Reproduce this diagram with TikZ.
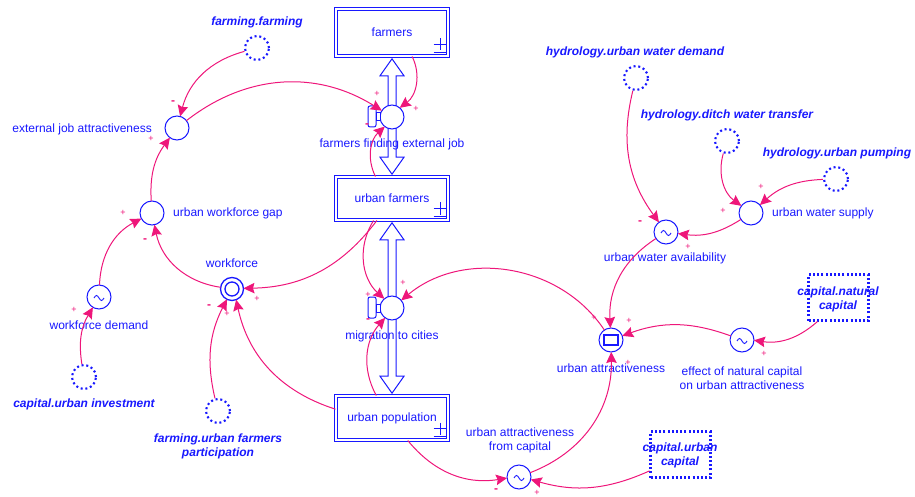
\documentclass[tikz,border=0pt]{standalone}
\usepackage{fontspec}
\setmainfont{Liberation Sans}
\usetikzlibrary{arrows.meta,calc}
\definecolor{sdblue}{RGB}{24,24,255}
\definecolor{sdlink}{RGB}{238,22,122}
\newcommand{\stockmark}[1]{%
  \draw[sdblue,line width=1pt] ($(#1.south east)+(-15,-12)$) -- ++(13,0)
    ($(#1.south east)+(-8.5,-18)$) -- ++(0,12);
  \draw[sdblue,line width=1.6pt] ($(#1.south east)+(-15,-4)$) -- ++(13,0);}
\newcommand{\valvehandle}[1]{%
  \draw[sdblue,line width=1pt,fill=white,rounded corners=2pt]
    ($(#1)+(-24,-11)$) rectangle ($(#1)+(-16,10)$);
  \draw[sdblue,line width=1pt,fill=white]
    ($(#1)+(-16,-4)$) rectangle ($(#1)+(-11.5,4)$);}
\begin{document}
\begin{tikzpicture}[x=1pt,y=-1pt,
  every node/.style={font=\fontsize{12}{14}\selectfont, text=sdblue, inner sep=0pt},
  mod/.style={font=\bfseries\itshape\fontsize{12}{14}\selectfont},
  stock/.style={draw=sdblue, double=white, double distance=2.5pt, line width=1pt,
    fill=white, minimum width=112pt, minimum height=44pt},
  aux/.style={circle, draw=sdblue, fill=white, line width=1pt, minimum size=24pt, outer sep=0pt},
  wave/.style={aux, path picture={\draw[sdblue,line width=0.9pt,
      shift={(path picture bounding box.center)}]
      (-5pt,-1pt) sin (-2.5pt,1.5pt) cos (0pt,-1pt) sin (2.5pt,-3.5pt) cos (5pt,-1pt);}},
  doublering/.style={aux, minimum size=23pt, line width=1.3pt, path picture={\draw[sdblue,line width=1.3pt]
      (path picture bounding box.center) circle (7pt);}},
  boxring/.style={aux, path picture={\draw[sdblue,line width=1.2pt,
      shift={(path picture bounding box.center)}] (-7pt,-5pt) rectangle (7pt,5pt);}},
  ghost/.style={circle, draw=sdblue, line width=2.1pt, dash pattern=on 2pt off 2.8pt,
    minimum size=24pt},
  ghostbox/.style={draw=sdblue, line width=2.1pt, dash pattern=on 2pt off 2.2pt,
    minimum width=60pt, minimum height=46pt},
  pipe/.style={draw=sdblue, line width=1pt, fill=white, line join=miter},
  link/.style={draw=sdlink, line width=1pt, -{Stealth[length=11pt,width=10.5pt,inset=1.5pt]}},
  plussign/.style={text=sdlink, font=\fontsize{9}{9}\selectfont},
  minussign/.style={text=sdlink, font=\bfseries\fontsize{12}{12}\selectfont}]
\useasboundingbox (0,0) rectangle (915,497);

% stocks
\node[stock, minimum height=47pt] (farmers) at (392,32.5) {farmers};
\node[stock, minimum height=43pt] (uf) at (392,198.5) {urban farmers};
\node[stock] (up) at (392,418) {urban population};
\stockmark{farmers}
\stockmark{uf}
\stockmark{up}

% flow pipes with arrowheads at both ends
\draw[pipe] ($(farmers.south)+(0,2.3)$) -- ++(12,17) -- ++(-8,0)
  -- ($(uf.north)+(4,-19.3)$) -- ++(8,0) -- ($(uf.north)+(0,-2.3)$)
  -- ++(-12,-17) -- ++(8,0) -- ($(farmers.south)+(-4,19.3)$) -- ++(-8,0) -- cycle;
\draw[pipe] ($(uf.south)+(0,2.3)$) -- ++(12,17) -- ++(-8,0)
  -- ($(up.north)+(4,-19.3)$) -- ++(8,0) -- ($(up.north)+(0,-2.3)$)
  -- ++(-12,-17) -- ++(8,0) -- ($(uf.south)+(-4,19.3)$) -- ++(-8,0) -- cycle;

% valves
\node[aux] (ffej) at (392,117) {};
\node[aux] (mig) at (392,308) {};
\valvehandle{ffej}
\valvehandle{mig}
\node (ffejl) at (392,144) {farmers finding external job};
\node (migl) at (392,336) {migration to cities};

% left part
\node[aux] (eja) at (177,128) {};
\node[anchor=east] (ejal) at (152,129) {external job attractiveness};
\node[aux] (uwg) at (152,213) {};
\node[anchor=west] (uwgl) at (173,213) {urban workforce gap};
\node[doublering] (wf) at (232,289) {};
\node (wfl) at (232,263) {workforce};
\node[wave] (wd) at (99,297) {};
\node (wdl) at (99,325) {workforce demand};
\node[ghost] (cui) at (84,377) {};
\node[mod] (cuil) at (84,404) {capital.urban investment};
\node[ghost] (ff) at (257,48) {};
\node[mod] (ffl) at (257,22) {farming.farming};
\node[ghost] (ufp) at (218,411) {};
\node[mod, align=center] (ufpl) at (218,446) {farming.urban farmers\\participation};

% right part
\node[ghost] (uwd) at (636,78) {};
\node[mod] (uwdl) at (635,52) {hydrology.urban water demand};
\node[ghost] (dwt) at (727,141) {};
\node[mod] (dwtl) at (727,115) {hydrology.ditch water transfer};
\node[ghost] (upump) at (836,179) {};
\node[mod] (upumpl) at (837,153) {hydrology.urban pumping};
\node[aux] (uws) at (751,213) {};
\node[anchor=west] (uwsl) at (772,213) {urban water supply};
\node[wave] (uwa) at (666,232) {};
\node (uwal) at (665,258) {urban water availability};
\node[boxring] (ua) at (611,340) {};
\node (ual) at (611,368) {urban attractiveness};
\node[wave] (enc) at (742,340) {};
\node[align=center] (encl) at (742,378) {effect of natural capital\\on urban attractiveness};
\node[ghostbox] (nc) at (838.5,297.5) {};
\node[mod, align=center] (ncl) at (838,299) {capital.natural\\capital};
\node[wave] (uafc) at (519,477) {};
\node[align=center] (uafcl) at (520,440) {urban attractiveness\\from capital};
\node[ghostbox] (uc) at (680.5,454.5) {};
\node[mod, align=center] (ucl) at (680,455) {capital.urban\\capital};

% causal links
\draw[link] (ff) to[bend right=30] (eja);
\draw[link] (eja) to[bend left=35] (ffej);
\draw[link] (farmers) to[bend left=40] (ffej);
\draw[link] (uf) to[bend left=37] (ffej);
\draw[link] (uwg) to[bend left=20] (eja);
\draw[link] (wd) to[bend left=30] (uwg);
\draw[link] (wf) to[bend left=35] (uwg);
\draw[link] (uf) to[bend left=26] (wf);
\draw[link] (cui) to[bend left=20] (wd);
\draw[link] (ufp) to[bend left=20] (wf);
\draw[link] (up) to[bend left=30] (wf);
\draw[link] (uf) to[bend right=40] (mig);
\draw[link] (ua) to[bend right=48] (mig);
\draw[link] (up) to[bend left=35] (mig);
\draw[link] (uwd) to[bend right=25] (uwa);
\draw[link] (dwt) to[bend right=35] (uws);
\draw[link] (upump) to[bend right=20] (uws);
\draw[link] (uws) to[bend left=20] (uwa);
\draw[link] (uwa) to[bend right=30] (ua);
\draw[link] (enc) to[bend right=20] (ua);
\draw[link] (nc) to[bend left=25] (enc);
\draw[link] (uafc) to[bend right=35] (ua);
\draw[link] (up) to[bend right=30] (uafc);
\draw[link] (uc) to[bend left=20] (uafc);

% link polarities
\node[minussign] (s1) at (173,103) {-};
\node[plussign] (s2) at (377,94) {+};
\node[plussign] (s3) at (416,109) {+};
\node[minussign] (s4) at (367,126) {-};
\node[plussign] (s5) at (151,139) {+};
\node[plussign] (s6) at (123,213) {+};
\node[minussign] (s7) at (145,241) {-};
\node[plussign] (s8) at (257,299) {+};
\node[plussign] (s9) at (74,310) {+};
\node[minussign] (s10) at (209,307) {-};
\node[plussign] (s11) at (227,314) {+};
\node[plussign] (s12) at (368,295) {+};
\node[plussign] (s13) at (403,283) {+};
\node[minussign] (s14) at (368,321) {-};
\node[minussign] (s15) at (640,223) {-};
\node[plussign] (s16) at (723,211) {+};
\node[plussign] (s17) at (761,187) {+};
\node[plussign] (s18) at (688,247) {+};
\node[plussign] (s19) at (594,318) {+};
\node[plussign] (s20) at (629,321) {+};
\node[plussign] (s21) at (764,354) {+};
\node[plussign] (s22) at (628,363) {+};
\node[minussign] (s23) at (496,491) {-};
\node[plussign] (s24) at (537,493) {+};
\end{tikzpicture}
\end{document}
